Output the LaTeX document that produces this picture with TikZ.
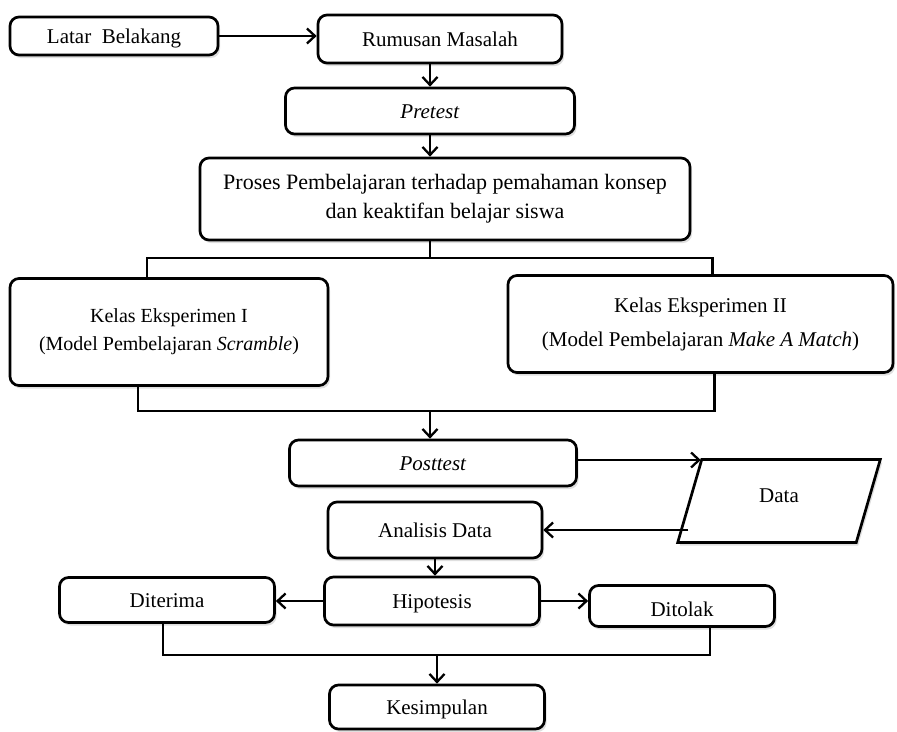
\documentclass[tikz,border=0pt]{standalone}
\usepackage{fontspec}
\setmainfont{Liberation Serif}
\usetikzlibrary{arrows.meta,shapes.geometric,shadows}
\begin{document}
\begin{tikzpicture}[x=1pt,y=-1pt,
  box/.style={draw, line width=2.7pt, rounded corners=9pt, fill=white, align=center,
    font=\fontsize{21}{29}\selectfont, inner sep=0pt,
    drop shadow={opacity=0.25, shadow xshift=2pt, shadow yshift=-3pt}},
  oneline/.style={box, text height=14pt, text depth=0pt},
  databox/.style={draw, line width=2.7pt, fill=white, trapezium, trapezium left angle=76,
    trapezium right angle=104, trapezium stretches=true, inner sep=0pt,
    font=\fontsize{21}{29}\selectfont,
    drop shadow={opacity=0.25, shadow xshift=2pt, shadow yshift=-3pt}},
  conn/.style={line width=2.3pt},
  arr/.style={conn, -{Straight Barb[length=8pt,width=15pt,line width=2.3pt]}}]
\useasboundingbox (0,0) rectangle (897,731);

\node[oneline, minimum width=208, minimum height=38] (lb) at (114,36) {Latar\ \ Belakang};
\node[oneline, minimum width=244, minimum height=48] (rm) at (440,39) {Rumusan Masalah};
\node[oneline, minimum width=289, minimum height=46] (pre) at (430,111) {\textit{Pretest}};
\node[box, minimum width=490, minimum height=82, font=\fontsize{22}{29}\selectfont] (pro) at (445,199) {Proses Pembelajaran terhadap pemahaman konsep\\dan keaktifan belajar siswa};
\node[box, minimum width=318, minimum height=107, font=\fontsize{20}{28}\selectfont] (k1) at (169,332) {Kelas Eksperimen I\\(Model Pembelajaran \textit{Scramble})};
\node[box, minimum width=385, minimum height=97, font=\fontsize{21}{34}\selectfont] (k2) at (700.5,324) {Kelas Eksperimen II\\(Model Pembelajaran \textit{Make A Match})};
\node[oneline, minimum width=287, minimum height=46] (post) at (433,463) {\textit{Posttest}};
\node[databox, minimum width=203, minimum height=83] (data) at (779,501) {\raisebox{11pt}{Data}};
\node[oneline, minimum width=214, minimum height=56] (ana) at (435,530) {Analisis Data};
\node[oneline, minimum width=215, minimum height=48] (hip) at (432,601) {Hipotesis};
\node[oneline, minimum width=215, minimum height=45] (dit) at (167,600) {Diterima};
\node[oneline, minimum width=185, minimum height=41] (tol) at (682,606) {\raisebox{-3pt}{Ditolak}};
\node[oneline, minimum width=215, minimum height=44] (kes) at (437,707) {Kesimpulan};

\coordinate (s1) at (430,258);
\coordinate (m1) at (430,411);
\coordinate (m2) at (437,655);

\draw[arr] (lb.east) -- (lb.east -| rm.west);
\draw[arr] (pre.north |- rm.south) -- (pre.north);
\draw[arr] (pre.south) -- (pre.south |- pro.north);
\draw[conn] (s1 |- pro.south) -- (s1);
\draw[conn] ([xshift=-22pt]k1.north) |- (s1) -| ([xshift=12pt]k2.north);
\draw[conn] ([xshift=-31pt]k1.south) |- (m1) -| ([xshift=14pt]k2.south);
\draw[arr] (m1) -- (m1 |- post.north);
\draw[arr] ([yshift=3pt]post.east) -- ([yshift=3pt]post.east -| data.top left corner);
\draw[arr] (data.west |- ana.east) -- (ana.east);
\draw[arr] (ana.south) -- (ana.south |- hip.north);
\draw[arr] (hip.west) -- (hip.west -| dit.east);
\draw[arr] (hip.east) -- (hip.east -| tol.west);
\draw[conn] ([xshift=-4pt]dit.south) |- (m2) -| ([xshift=28pt]tol.south);
\draw[arr] (m2) -- (m2 |- kes.north);
\end{tikzpicture}
\end{document}
